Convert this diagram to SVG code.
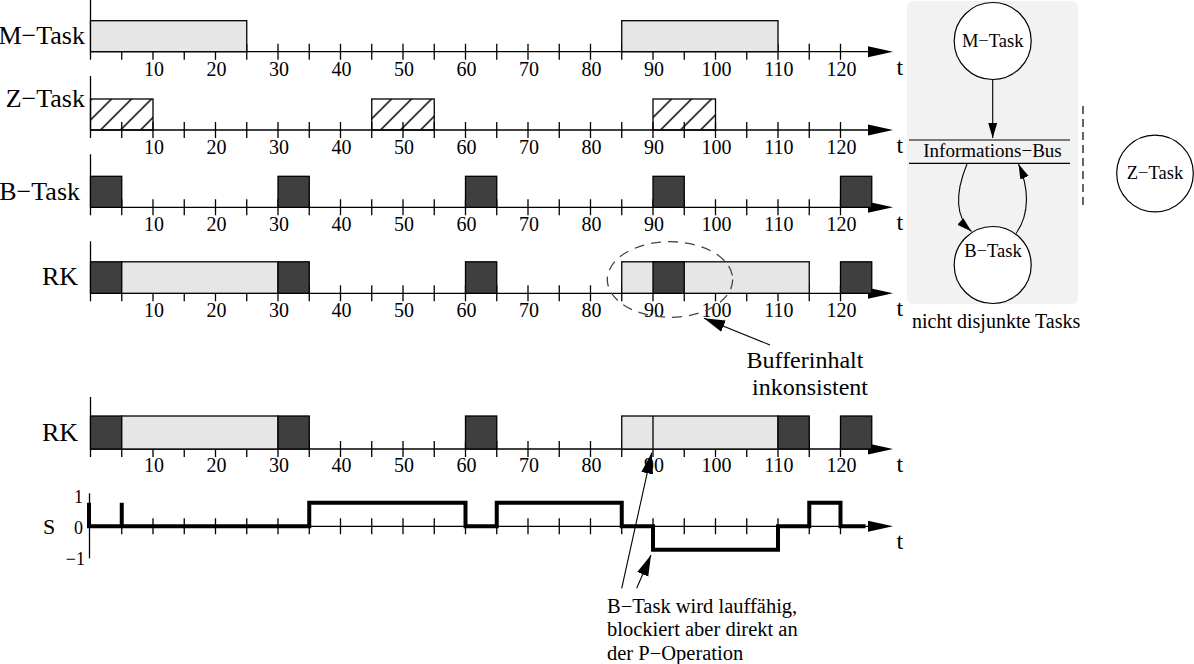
<svg xmlns="http://www.w3.org/2000/svg" width="1194" height="664" viewBox="0 0 1194 664">
<style>
  text { font-family: "Liberation Serif", "Times New Roman", serif; fill: #000; }
  .lbl { font-size: 26px; text-anchor: end; }
  .num { font-size: 20px; text-anchor: middle; }
  .tt { font-size: 24px; }
  .ax { stroke: #000; stroke-width: 1.3; fill: none; }
  .light { fill: #e6e6e6; stroke: #000; stroke-width: 1.3; }
  .dark { fill: #3f3f3f; stroke: #000; stroke-width: 1.3; }
  .hatch { fill: url(#hatch); stroke: #000; stroke-width: 1.3; }
  .node { fill: #fff; stroke: #000; stroke-width: 1.2; }
  .ntext { font-size: 18.5px; text-anchor: middle; }
  .conn { stroke: #000; stroke-width: 1.1; fill: none; }
  .ann { font-size: 20.5px; }
</style>
<defs>
  <pattern id="hatch" patternUnits="userSpaceOnUse" width="20" height="20" x="10" y="0">
    <path d="M-5,5 L5,-5 M0,20 L20,0 M15,25 L25,15" stroke="#000" stroke-width="1.5"/>
  </pattern>
  <path id="ticks" d="M31.25,-8v16M62.5,-8v16M93.75,-8v16M125,-8v16M156.25,-8v16M187.5,-8v16M218.75,-8v16M250,-8v16M281.25,-8v16M312.5,-8v16M343.75,-8v16M375,-8v16M406.25,-8v16M437.5,-8v16M468.75,-8v16M500,-8v16M531.25,-8v16M562.5,-8v16M593.75,-8v16M625,-8v16M656.25,-8v16M687.5,-8v16M718.75,-8v16M750,-8v16" stroke="#000" stroke-width="1.3" fill="none"/>
  <path id="haxis" d="M0,0H779" stroke="#000" stroke-width="1.3" fill="none"/>
  <polygon id="harrow" points="777.5,-5.5 802.5,0 777.5,5.5" fill="#000"/>
  <marker id="big" markerUnits="userSpaceOnUse" viewBox="0 -7 22 14" refX="21" refY="0" markerWidth="22" markerHeight="14" orient="auto">
    <path d="M0,-6 L21,0 L0,6 z" fill="#000"/>
  </marker>
  <marker id="small" markerUnits="userSpaceOnUse" viewBox="0 -5 16 10" refX="15" refY="0" markerWidth="16" markerHeight="10" orient="auto">
    <path d="M0,-4.5 L15,0 L0,4.5 z" fill="#000"/>
  </marker>
</defs>

<!-- M-Task row -->
<g id="row-m">
  <text class="lbl" x="85" y="44">M−Task</text>
  <g transform="translate(90.5,51.7)">
    <use href="#ticks"/>
    <path class="ax" d="M0,-52V8"/>
    <use href="#haxis"/><use href="#harrow"/>
    <rect class="light" x="0" y="-31" width="156.25" height="31"/>
    <rect class="light" x="531.25" y="-31" width="156.25" height="31"/>
    <text class="num" x="63.5" y="24">10</text><text class="num" x="126" y="24">20</text><text class="num" x="188.5" y="24">30</text><text class="num" x="251" y="24">40</text><text class="num" x="313.5" y="24">50</text><text class="num" x="376" y="24">60</text><text class="num" x="438.5" y="24">70</text><text class="num" x="501" y="24">80</text><text class="num" x="563.5" y="24">90</text><text class="num" x="626" y="24">100</text><text class="num" x="688.5" y="24">110</text><text class="num" x="751" y="24">120</text>
    <text class="tt" x="806" y="23">t</text>
  </g>
</g>

<!-- Z-Task row -->
<g id="row-z">
  <text class="lbl" x="85" y="107">Z−Task</text>
  <g transform="translate(90.5,130)">
    <use href="#ticks"/>
    <path class="ax" d="M0,-54V8"/>
    <use href="#haxis"/><use href="#harrow"/>
    <rect class="hatch" x="0" y="-31" width="62.5" height="31"/>
    <rect class="hatch" x="281.25" y="-31" width="62.5" height="31"/>
    <rect class="hatch" x="562.5" y="-31" width="62.5" height="31"/>
    <text class="num" x="63.5" y="24">10</text><text class="num" x="126" y="24">20</text><text class="num" x="188.5" y="24">30</text><text class="num" x="251" y="24">40</text><text class="num" x="313.5" y="24">50</text><text class="num" x="376" y="24">60</text><text class="num" x="438.5" y="24">70</text><text class="num" x="501" y="24">80</text><text class="num" x="563.5" y="24">90</text><text class="num" x="626" y="24">100</text><text class="num" x="688.5" y="24">110</text><text class="num" x="751" y="24">120</text>
    <text class="tt" x="806" y="23">t</text>
  </g>
</g>

<!-- B-Task row -->
<g id="row-b">
  <text class="lbl" x="80" y="200">B−Task</text>
  <g transform="translate(90.5,207.3)">
    <use href="#ticks"/>
    <path class="ax" d="M0,-53V8"/>
    <use href="#haxis"/><use href="#harrow"/>
    <rect class="dark" x="0" y="-31" width="31.25" height="31"/>
    <rect class="dark" x="187.5" y="-31" width="31.25" height="31"/>
    <rect class="dark" x="375" y="-31" width="31.25" height="31"/>
    <rect class="dark" x="562.5" y="-31" width="31.25" height="31"/>
    <rect class="dark" x="750" y="-31" width="31.25" height="31"/>
    <text class="num" x="63.5" y="24">10</text><text class="num" x="126" y="24">20</text><text class="num" x="188.5" y="24">30</text><text class="num" x="251" y="24">40</text><text class="num" x="313.5" y="24">50</text><text class="num" x="376" y="24">60</text><text class="num" x="438.5" y="24">70</text><text class="num" x="501" y="24">80</text><text class="num" x="563.5" y="24">90</text><text class="num" x="626" y="24">100</text><text class="num" x="688.5" y="24">110</text><text class="num" x="751" y="24">120</text>
    <text class="tt" x="806" y="23">t</text>
  </g>
</g>

<!-- RK row 1 -->
<g id="row-rk1">
  <text class="lbl" x="78" y="285">RK</text>
  <g transform="translate(90.5,293.3)">
    <use href="#ticks"/>
    <path class="ax" d="M0,-52V8"/>
    <use href="#haxis"/><use href="#harrow"/>
    <rect class="dark" x="0" y="-31.5" width="31.25" height="31.5"/>
    <rect class="light" x="31.25" y="-31.5" width="156.25" height="31.5"/>
    <rect class="dark" x="187.5" y="-31.5" width="31.25" height="31.5"/>
    <rect class="dark" x="375" y="-31.5" width="31.25" height="31.5"/>
    <rect class="light" x="531.25" y="-31.5" width="187.5" height="31.5"/>
    <rect class="dark" x="562.5" y="-31.5" width="31.25" height="31.5"/>
    <rect class="dark" x="750" y="-31.5" width="31.25" height="31.5"/>
    <text class="num" x="63.5" y="24">10</text><text class="num" x="126" y="24">20</text><text class="num" x="188.5" y="24">30</text><text class="num" x="251" y="24">40</text><text class="num" x="313.5" y="24">50</text><text class="num" x="376" y="24">60</text><text class="num" x="438.5" y="24">70</text><text class="num" x="501" y="24">80</text><text class="num" x="563.5" y="24">90</text><text class="num" x="626" y="24">100</text><text class="num" x="688.5" y="24">110</text><text class="num" x="751" y="24">120</text>
    <text class="tt" x="806" y="23">t</text>
  </g>
</g>

<!-- inconsistency annotation -->
<g id="note-buffer">
  <ellipse cx="670" cy="279.5" rx="62.7" ry="37.8" fill="none" stroke="#444" stroke-width="1.3" stroke-dasharray="10 7"/>
  <text x="805" y="367.5" style="font-size:24px;text-anchor:middle">Bufferinhalt</text>
  <text x="810" y="394.5" style="font-size:24px;text-anchor:middle">inkonsistent</text>
</g>

<!-- RK row 2 -->
<g id="row-rk2">
  <text class="lbl" x="78" y="440.5">RK</text>
  <g transform="translate(90.5,449)">
    <use href="#ticks"/>
    <path class="ax" d="M0,-52V8"/>
    <use href="#haxis"/><use href="#harrow"/>
    <rect class="dark" x="0" y="-33" width="31.25" height="33"/>
    <rect class="light" x="31.25" y="-33" width="156.25" height="33"/>
    <rect class="dark" x="187.5" y="-33" width="31.25" height="33"/>
    <rect class="dark" x="375" y="-33" width="31.25" height="33"/>
    <rect class="light" x="531.25" y="-33" width="156.25" height="33"/>
    <path class="ax" d="M562.5,-33V0"/>
    <rect class="dark" x="687.5" y="-33" width="31.25" height="33"/>
    <rect class="dark" x="750" y="-33" width="31.25" height="33"/>
    <text class="num" x="63.5" y="23">10</text><text class="num" x="126" y="23">20</text><text class="num" x="188.5" y="23">30</text><text class="num" x="251" y="23">40</text><text class="num" x="313.5" y="23">50</text><text class="num" x="376" y="23">60</text><text class="num" x="438.5" y="23">70</text><text class="num" x="501" y="23">80</text><text class="num" x="563.5" y="23">90</text><text class="num" x="626" y="23">100</text><text class="num" x="688.5" y="23">110</text><text class="num" x="751" y="23">120</text>
    <text class="tt" x="806" y="23">t</text>
  </g>
</g>

<!-- S row -->
<g id="row-s">
  <text x="43" y="534" style="font-size:22px">S</text>
  <text x="74" y="503" style="font-size:18px">1</text>
  <text x="74" y="534" style="font-size:18px">0</text>
  <text x="85" y="565" style="font-size:18px;text-anchor:end">−1</text>
  <g transform="translate(90.5,526.3)">
    <use href="#ticks"/>
    <path class="ax" d="M-1,-33V32"/>
    <use href="#haxis"/><use href="#harrow"/>
    <path d="M-1.5,-23.5V0H31.25V-23.5V0H218.75V-23.5H375V0H406.25V-23.5H531.25V0H562.5V23.5H687.5V0H718.75V-23.5H750V0H775" fill="none" stroke="#000" stroke-width="4"/>
    <text class="tt" x="806" y="23">t</text>
  </g>
</g>

<!-- bottom annotation -->
<g id="note-btask">
  <text class="ann" x="607" y="612.5">B−Task wird lauffähig,</text>
  <text class="ann" x="607" y="636">blockiert aber direkt an</text>
  <text class="ann" x="607" y="659.5">der P−Operation</text>
</g>

<!-- right panel -->
<g id="panel">
  <rect x="907" y="1" width="171" height="303" rx="6" fill="#f2f2f2"/>
  <text x="912" y="328" style="font-size:20px">nicht disjunkte Tasks</text>
</g>
<g id="bus">
  <path d="M909,140H1070M909,163.3H1070" stroke="#000" stroke-width="1.2"/>
  <text class="ntext" x="992.5" y="157" style="font-size:19px">Informations−Bus</text>
</g>
<g id="m-task">
  <circle class="node" cx="992.7" cy="41" r="38.5"/>
  <text class="ntext" x="992.7" y="47">M−Task</text>
</g>
<g id="b-task">
  <circle class="node" cx="992.7" cy="265" r="38.5"/>
  <text class="ntext" x="993" y="257">B−Task</text>
</g>
<g id="z-task">
  <circle class="node" cx="1155" cy="173.5" r="38.3"/>
  <text class="ntext" x="1155" y="179">Z−Task</text>
</g>
<path id="separator" d="M1083,106V208" stroke="#000" stroke-width="1.2" stroke-dasharray="8 5"/>

<!-- connectors -->
<g id="connectors">
  <path class="conn" d="M992.7,80V138" marker-end="url(#small)"/>
  <path class="conn" d="M967,164C958,186 952,214 971.5,231.5" marker-end="url(#small)"/>
  <path class="conn" d="M1016,233.5C1030,214 1029,188 1018.5,164" marker-end="url(#small)"/>
  <path class="conn" d="M770,345L704,318.3" marker-end="url(#big)"/>
  <path class="conn" d="M621.7,588.3L651.7,452.7" marker-end="url(#big)"/>
  <path class="conn" d="M636.7,588.3L651,555" marker-end="url(#big)"/>
</g>
</svg>
